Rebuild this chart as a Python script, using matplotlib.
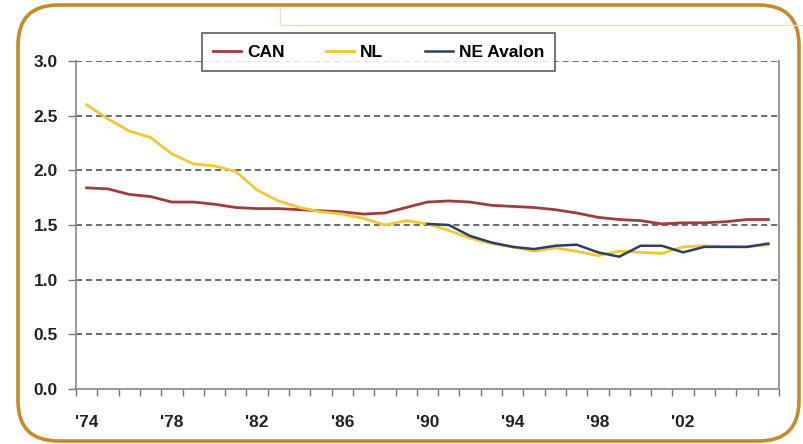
import matplotlib
matplotlib.use("Agg")
import matplotlib.pyplot as plt
import numpy as np
from matplotlib.patches import FancyBboxPatch
from matplotlib.lines import Line2D

years = list(range(1974, 2007))
can = [1.84, 1.83, 1.78, 1.76, 1.71, 1.71, 1.69, 1.66, 1.65, 1.65, 1.64, 1.63,
       1.62, 1.60, 1.61, 1.66, 1.71, 1.72, 1.71, 1.68, 1.67, 1.66, 1.64, 1.61,
       1.57, 1.55, 1.54, 1.51, 1.52, 1.52, 1.53, 1.55, 1.55]
nl = [2.60, 2.47, 2.36, 2.30, 2.15, 2.06, 2.04, 1.99, 1.82, 1.72, 1.66, 1.62,
      1.60, 1.56, 1.50, 1.54, 1.51, 1.45, 1.38, 1.33, 1.30, 1.26, 1.29, 1.26,
      1.22, 1.26, 1.25, 1.24, 1.30, 1.31, 1.30, 1.30, 1.32]
ne_avalon = [np.nan] * 16 + [1.51, 1.50, 1.40, 1.34, 1.30, 1.28, 1.31, 1.32,
                             1.25, 1.21, 1.31, 1.31, 1.25, 1.30, 1.30, 1.30, 1.33]
label_years = list(range(1974, 2003, 4))
tick_labels = ["'%02d" % (y % 100) for y in label_years]
yticks = [0.0, 0.5, 1.0, 1.5, 2.0, 2.5, 3.0]

plt.rcParams['font.family'] = ['Liberation Sans', 'DejaVu Sans']

fig = plt.figure(figsize=(8.04, 4.44), dpi=100)
fig.patch.set_facecolor('white')

# rounded border
border = FancyBboxPatch((18 / 804, 3 / 444), 781 / 804, 436 / 444,
                        boxstyle="round,pad=0,rounding_size=0.05",
                        transform=fig.transFigure, fill=False,
                        edgecolor='#C88A22', linewidth=2.6, zorder=0,
                        mutation_aspect=804 / 444)
fig.patches.append(border)
fig.lines.append(Line2D([280 / 804, 804 / 804], [1 - 25 / 444, 1 - 25 / 444],
                        transform=fig.transFigure, color='#F3DFC0', lw=1))
fig.lines.append(Line2D([280 / 804, 280 / 804], [1 - 25 / 444, 1 - 8 / 444],
                        transform=fig.transFigure, color='#F3DFC0', lw=1))

ax = fig.add_axes([76 / 804, 55 / 444, 703 / 804, 328 / 444])
x = np.arange(len(years))
ax.plot(x, can, color='#A33A3C', lw=2.0, label='CAN', zorder=3)
ax.plot(x, nl, color='#EFC92E', lw=2.0, label='NL', zorder=3)
ax.plot(x, ne_avalon, color='#2C3D6A', lw=1.8, label='NE Avalon', zorder=4)

ax.set_xlim(-0.5, len(years) - 0.5)
ax.set_ylim(0, 3.0)
ax.set_yticks(yticks)
ax.set_yticklabels(['%.1f' % v for v in yticks], fontsize=12.5, fontweight='bold',
                   color='#222222')
for v in yticks[1:]:
    ax.axhline(v, color='#444444', lw=1.1, ls=(0, (4, 2.5)), zorder=1)

ax.set_xticks(np.arange(-0.5, len(years), 1.0), minor=True)
ax.set_xticks([years.index(y) for y in label_years])
ax.set_xticklabels(tick_labels, fontsize=12.5, fontweight='bold', color='#222222')
ax.tick_params(axis='x', which='major', length=0, pad=19)
ax.tick_params(axis='x', which='minor', length=5, color='#777777', width=1)
ax.tick_params(axis='y', length=6, color='#777777', width=1, pad=7)

for s in ['left', 'bottom', 'right']:
    ax.spines[s].set_color('#888888')
    ax.spines[s].set_linewidth(1.2)
ax.spines['top'].set_visible(False)

leg = ax.legend(loc='upper left', bbox_to_anchor=(0.179, 1.084), ncol=3,
                frameon=True, fancybox=False, shadow=False,
                prop={'weight': 'bold', 'size': 12.5}, handlelength=1.6,
                columnspacing=2.4, borderpad=0.65, handletextpad=0.35,
                borderaxespad=0)
leg.get_frame().set_edgecolor('#333333')
leg.get_frame().set_linewidth(1.2)
leg.set_zorder(10)

fig.savefig('out.png', dpi=100)
